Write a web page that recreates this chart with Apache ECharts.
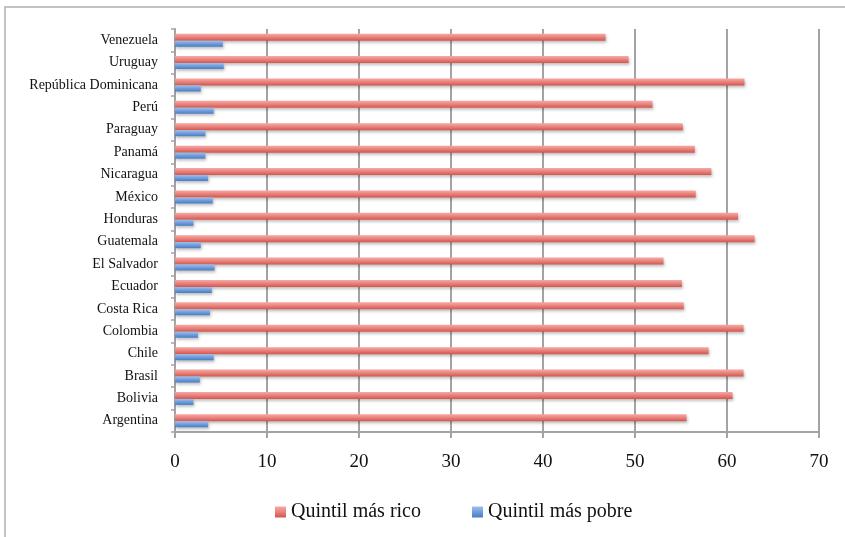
<!DOCTYPE html>
<html>
<head>
<meta charset="utf-8">
<script src="https://cdn.jsdelivr.net/npm/echarts@6/dist/echarts.min.js"></script>
<style>
html,body{margin:0;padding:0;background:#fff;}
#chart{width:845px;height:537px;}
</style>
</head>
<body>
<div id="chart"></div>
<script>
// Categories bottom-to-top as drawn on the y axis
var countries = ['Argentina','Bolivia','Brasil','Chile','Colombia','Costa Rica','Ecuador','El Salvador','Guatemala','Honduras','México','Nicaragua','Panamá','Paraguay','Perú','República Dominicana','Uruguay','Venezuela'];
var richest = [55.6, 60.6, 61.8, 58.0, 61.8, 55.3, 55.1, 53.1, 63.0, 61.2, 56.6, 58.3, 56.5, 55.2, 51.9, 61.9, 49.3, 46.8];
var poorest = [3.6, 2.0, 2.7, 4.2, 2.5, 3.8, 4.0, 4.3, 2.8, 2.0, 4.1, 3.6, 3.3, 3.3, 4.2, 2.8, 5.3, 5.2];
var seriesNames = ['Quintil más rico', 'Quintil más pobre'];
var xTicks = [0, 10, 20, 30, 40, 50, 60, 70];

var chart = echarts.init(document.getElementById('chart'), null, {renderer: 'canvas'});
var serif = 'Liberation Serif';
var gridColor = '#a3a3a3';

var option = {
  animation: false,
  backgroundColor: '#fff',
  textStyle: {fontFamily: serif},
  graphic: [{
    type: 'rect',
    shape: {x: 5, y: 7, width: 900, height: 600},
    style: {fill: 'none', stroke: '#b0b0b0', lineWidth: 1.5},
    silent: true, z: -1
  }],
  grid: {left: 175, right: 26, top: 29, bottom: 105, containLabel: false},
  legend: {
    data: seriesNames,
    left: 275, top: 502, padding: 0,
    itemWidth: 11, itemHeight: 11, itemGap: 51,
    icon: 'rect',
    textStyle: {fontFamily: serif, fontSize: 20, color: '#111'}
  },
  xAxis: {
    type: 'value', min: xTicks[0], max: xTicks[xTicks.length-1], interval: 10,
    axisLine: {show: true, lineStyle: {color: gridColor, width: 2}},
    axisTick: {show: true, length: 6, lineStyle: {color: gridColor, width: 2}},
    splitLine: {show: true, lineStyle: {color: gridColor, width: 2}},
    axisLabel: {fontFamily: serif, fontSize: 19, color: '#111', margin: 21}
  },
  yAxis: {
    type: 'category', data: countries,
    axisLine: {show: true, lineStyle: {color: gridColor, width: 2}},
    axisTick: {show: true, length: 4, lineStyle: {color: gridColor, width: 1.5}},
    axisLabel: {fontFamily: serif, fontSize: 14, color: '#111', margin: 17}
  },
  series: [
    {
      name: seriesNames[0], type: 'bar', data: richest, barWidth: 7, barGap: '0%',
      itemStyle: {
        color: new echarts.graphic.LinearGradient(0, 0, 0, 1, [
          {offset: 0, color: '#f7a9a4'}, {offset: 0.5, color: '#e8817b'}, {offset: 1, color: '#d3564f'}
        ]),
        shadowColor: 'rgba(0,0,0,0.25)', shadowBlur: 3, shadowOffsetX: 1, shadowOffsetY: 2
      }
    },
    {
      name: seriesNames[1], type: 'bar', data: poorest, barWidth: 6, barGap: '0%',
      itemStyle: {
        color: new echarts.graphic.LinearGradient(0, 0, 0, 1, [
          {offset: 0, color: '#9cc0ec'}, {offset: 0.5, color: '#6f9ddb'}, {offset: 1, color: '#4a7cc4'}
        ]),
        shadowColor: 'rgba(0,0,0,0.25)', shadowBlur: 3, shadowOffsetX: 1, shadowOffsetY: 2
      }
    }
  ]
};
chart.setOption(option);
</script>
</body>
</html>
